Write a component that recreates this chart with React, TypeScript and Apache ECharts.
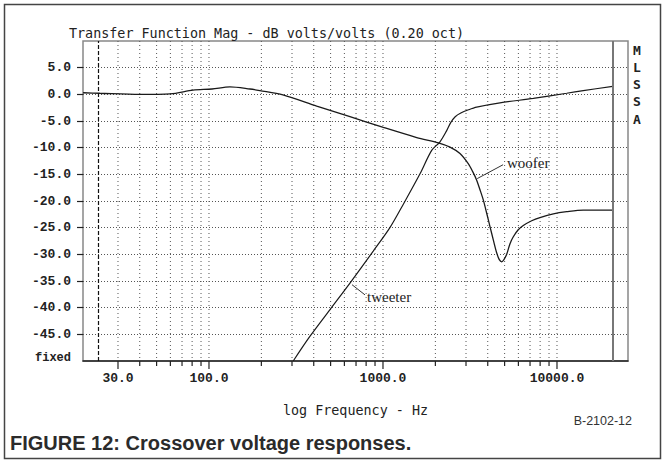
import React, { useEffect, useRef } from 'react';
import * as echarts from 'echarts';

// Woofer response (Hz, dB)
const woofFreq = [18.9, 23.6, 40, 60, 81, 104, 132, 172, 196, 266, 416, 646, 1004, 1563, 2080, 2427, 2770, 3090, 3278, 3455, 3610, 3770, 3945, 4120, 4305, 4500, 4660, 4810, 4955, 5140, 5370, 5610, 5990, 6400, 7154, 7980, 9530, 11370, 14160, 20900];
const woofDb = [0.3, 0.2, 0.0, 0.1, 0.8, 1.0, 1.4, 1.0, 0.7, -0.1, -2.2, -4.2, -6.2, -8.1, -9.1, -9.9, -11.1, -13.0, -14.5, -16.1, -17.9, -19.8, -22.3, -24.8, -27.3, -29.7, -31.0, -31.4, -31.0, -30.0, -28.0, -26.7, -25.4, -24.6, -23.7, -23.1, -22.4, -22.0, -21.7, -21.7];

// Tweeter response (Hz, dB)
const tweetFreq = [305, 380, 495, 646, 879, 1096, 1309, 1632, 1905, 2126, 2323, 2450, 2600, 2800, 3100, 3455, 4700, 7310, 11370, 14160, 20900];
const tweetDb = [-50, -45.4, -40.4, -35.4, -29.4, -25, -20.6, -14.9, -10.5, -8.9, -6.8, -5.3, -4.2, -3.5, -2.9, -2.4, -1.6, -0.75, 0.2, 0.7, 1.5];

// Axis ticks
const xGridFreqs = [30, 40, 50, 60, 70, 80, 90, 100, 200, 300, 400, 500, 600, 700, 800, 900, 1000, 2000, 3000, 4000, 5000, 6000, 7000, 8000, 9000, 10000];
const xMajorFreqs = [30, 100, 1000, 10000];
const yLabelValues = [-50, -45, -40, -35, -30, -25, -20, -15, -10, -5, 0, 5];
const yTickValues = [-45, -40, -35, -30, -25, -20, -15, -10, -5, 0, 5];
const markerFreqs = [23, 20900];

const monoPix = '"DejaVu Sans Mono", monospace';
const monoSerif = '"Liberation Mono", "Courier New", monospace';

export default function App() {
  const ref = useRef<HTMLDivElement>(null);

  useEffect(() => {
    if (!ref.current) return;
    const chart = echarts.init(ref.current, undefined, { renderer: 'svg' });

    const option: any = {
      animation: false,
      backgroundColor: '#fff',
      grid: {
        left: 83,
        top: 41,
        width: 545,
        height: 320,
        show: true,
        borderColor: '#888',
        borderWidth: 1.5,
        backgroundColor: 'transparent',
      },
      xAxis: {
        type: 'log',
        logBase: 10,
        min: 18.88,
        max: 25590,
        axisLine: { show: true, onZero: false, lineStyle: { color: '#222', width: 1.5 } },
        axisTick: { show: false },
        splitLine: { show: false },
        minorTick: { show: false },
        axisLabel: {
          customValues: xMajorFreqs,
          formatter: (v: number) => Number(v).toFixed(1),
          fontFamily: monoSerif,
          fontWeight: 'bold',
          fontSize: 13,
          color: '#222',
          margin: 11,
        },
        name: 'log Frequency - Hz',
        nameLocation: 'middle',
        nameGap: 43,
        nameTextStyle: { fontFamily: monoPix, fontSize: 13.4, color: '#222' },
      },
      yAxis: {
        type: 'value',
        min: -50,
        max: 10,
        interval: 5,
        axisLine: { show: false, onZero: false },
        axisTick: {
          show: true,
          customValues: yTickValues,
          length: 6,
          lineStyle: { color: '#222', width: 1.2 },
        },
        axisLabel: {
          customValues: yLabelValues,
          formatter: (v: number) => (v === -50 ? '{f|fixed}' : Number(v).toFixed(1)),
          fontFamily: monoSerif,
          fontWeight: 'bold',
          fontSize: 13,
          color: '#222',
          margin: 12,
          rich: {
            f: { fontFamily: monoSerif, fontWeight: 'bold', fontSize: 12, color: '#222', padding: [0, 0, 7, 0] },
          },
        },
        splitLine: { show: true, lineStyle: { type: [1, 2], color: '#555', width: 1 } },
      },
      series: [
        {
          type: 'custom',
          name: 'grid',
          silent: true,
          clip: false,
          encode: { x: 0, y: 1 },
          data: xGridFreqs.map((f) => [f, xMajorFreqs.indexOf(f) >= 0 ? 1 : 0]),
          renderItem: (params: any, api: any) => {
            const f = api.value(0);
            const major = api.value(1) === 1;
            const top = api.coord([f, 10]);
            const bot = api.coord([f, -50]);
            return {
              type: 'group',
              children: [
                {
                  type: 'line',
                  shape: { x1: top[0], y1: top[1], x2: bot[0], y2: bot[1] },
                  style: { stroke: '#555', lineWidth: 1, lineDash: [1, 3] },
                },
                {
                  type: 'line',
                  shape: { x1: bot[0], y1: bot[1], x2: bot[0], y2: bot[1] + (major ? 8 : 5) },
                  style: { stroke: '#222', lineWidth: 1.2 },
                },
              ],
            };
          },
        },
        {
          type: 'line',
          name: 'woofer',
          data: woofFreq.map((f, i) => [f, woofDb[i]]),
          symbol: 'none',
          smooth: 0.3,
          lineStyle: { color: '#1a1a1a', width: 1.3 },
          silent: true,
          markLine: {
            silent: true,
            symbol: 'none',
            label: { show: false },
            data: [
              { xAxis: markerFreqs[0], lineStyle: { type: [4, 2], color: '#111', width: 1.2 } },
              { xAxis: markerFreqs[1], lineStyle: { type: 'solid', color: '#777', width: 2 } },
            ],
          },
        },
        {
          type: 'line',
          name: 'tweeter',
          data: tweetFreq.map((f, i) => [f, tweetDb[i]]),
          symbol: 'none',
          smooth: 0.3,
          lineStyle: { color: '#1a1a1a', width: 1.2 },
          silent: true,
          markLine: {
            silent: true,
            symbol: 'none',
            label: { show: false },
            lineStyle: { type: 'solid', color: '#333', width: 1 },
            data: [
              [{ coord: [3480, -15.8] }, { coord: [4900, -13.2] }],
              [{ coord: [664, -35.7] }, { coord: [788, -37.6] }],
            ],
          },
        },
      ],
      graphic: [
        {
          type: 'rect',
          shape: { x: 4.5, y: 4.5, width: 656, height: 454 },
          style: { fill: 'none', stroke: '#444', lineWidth: 1.5 },
          silent: true,
        },
        {
          type: 'text',
          x: 69,
          y: 33,
          style: {
            text: 'Transfer Function Mag - dB volts/volts (0.20 oct)',
            font: `13.4px ${monoPix}`,
            fill: '#222',
            textAlign: 'left',
            textVerticalAlign: 'middle',
          },
        },
        ...'MLSSA'.split('').map((ch, i) => ({
          type: 'text',
          x: 637,
          y: 50 + i * 17.3,
          style: {
            text: ch,
            font: `bold 13px ${monoPix}`,
            fill: '#222',
            textAlign: 'center',
            textVerticalAlign: 'middle',
          },
        })),
        {
          type: 'text',
          x: 507,
          y: 163,
          style: {
            text: 'woofer',
            font: '15px "Liberation Serif", "Times New Roman", serif',
            fill: '#222',
            textAlign: 'left',
            textVerticalAlign: 'middle',
          },
        },
        {
          type: 'text',
          x: 367,
          y: 297,
          style: {
            text: 'tweeter',
            font: '15px "Liberation Serif", "Times New Roman", serif',
            fill: '#222',
            textAlign: 'left',
            textVerticalAlign: 'middle',
          },
        },
        {
          type: 'text',
          x: 632,
          y: 421,
          style: {
            text: 'B-2102-12',
            font: '12.5px "Liberation Sans Narrow", "Liberation Sans", sans-serif',
            fill: '#333',
            textAlign: 'right',
            textVerticalAlign: 'middle',
          },
        },
        {
          type: 'text',
          x: 10,
          y: 443,
          style: {
            text: 'FIGURE 12: Crossover voltage responses.',
            font: 'bold 20px "Liberation Sans", Arial, sans-serif',
            fill: '#2b2b2b',
            textAlign: 'left',
            textVerticalAlign: 'middle',
          },
        },
      ],
    };

    chart.setOption(option);
    return () => chart.dispose();
  }, []);

  return (
    <div
      ref={ref}
      style={{ position: 'absolute', left: 0, top: 0, width: 665, height: 462 }}
    />
  );
}
